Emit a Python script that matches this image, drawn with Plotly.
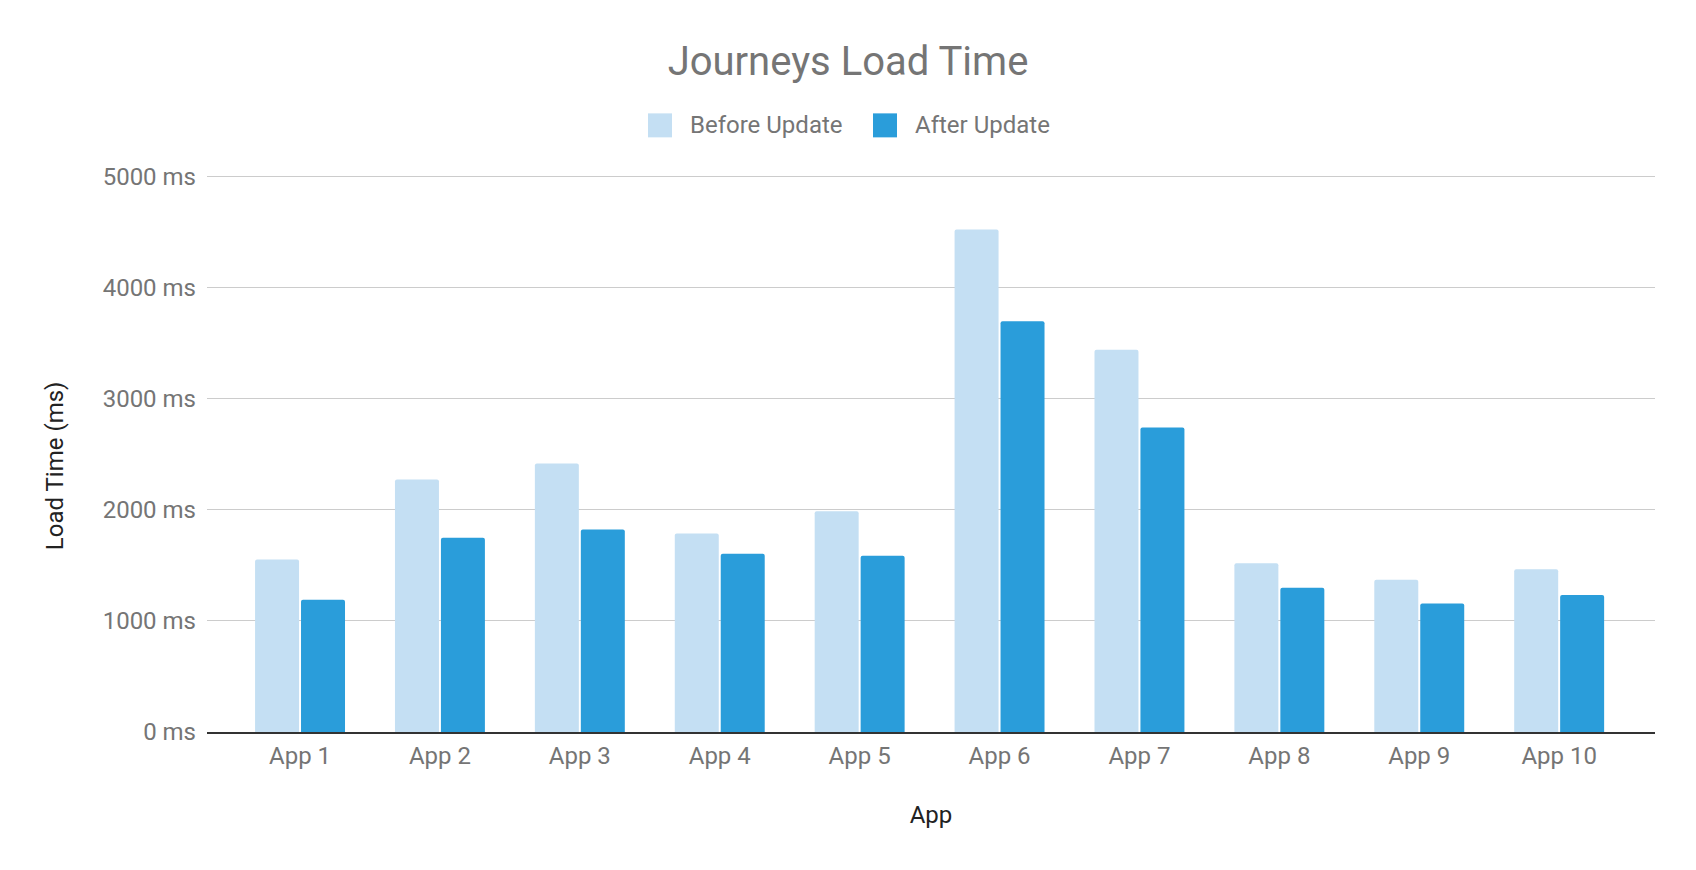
import plotly.graph_objects as go

# Dados
apps = ['App 1', 'App 2', 'App 3', 'App 4', 'App 5',
        'App 6', 'App 7', 'App 8', 'App 9', 'App 10']
antes = [1553, 2273, 2417, 1787, 1987, 4521, 3440, 1519, 1371, 1464]
depois = [1191, 1749, 1822, 1605, 1587, 3695, 2741, 1298, 1157, 1233]
series = ['Before Update', 'After Update']
cores = ['#C4DFF3', '#2A9DDA']
y_ticks = [0, 1000, 2000, 3000, 4000, 5000]

# Área do gráfico em px da página (a página tem 8px de margem no body)
Y_MAX = 5030
esq, dir_, base = 207, 1655, 732
topo = base - (base - 176) * Y_MAX / 5000


def px_x(x):
    return (x - esq) / (dir_ - esq)


def px_y(y):
    return (base - y) / (base - topo)


fig = go.Figure()

for nome, valores, cor in zip(series, [antes, depois], cores):
    fig.add_trace(go.Bar(
        x=apps,
        y=valores,
        name=nome,
        marker_color=cor,
        marker_line_width=0,
        marker_cornerradius=2,
        showlegend=False
    ))

# Legenda manual (quadrados maiores que os do plotly)
leg_x = [648, 873]
for i, (nome, cor) in enumerate(zip(series, cores)):
    x0 = leg_x[i]
    fig.add_shape(
        type='rect', xref='paper', yref='paper',
        x0=px_x(x0), x1=px_x(x0 + 24),
        y0=px_y(137), y1=px_y(113),
        fillcolor=cor, line_width=0, opacity=1
    )
    fig.add_annotation(
        text=nome, xref='paper', yref='paper',
        x=px_x(x0 + 40), y=px_y(125),
        xanchor='left', yanchor='middle', showarrow=False,
        font=dict(family='Roboto', size=24, color='#757575')
    )

# Título do eixo Y
fig.add_annotation(
    text='Load Time (ms)', xref='paper', yref='paper',
    x=px_x(55), y=px_y(466), textangle=-90,
    xanchor='center', yanchor='middle', showarrow=False,
    font=dict(family='Roboto', size=24, color='#222222')
)

# Layout
fig.update_layout(
    template='simple_white',
    width=1680,
    height=854,
    margin=dict(l=esq - 8, r=1688 - dir_, t=topo - 8, b=862 - base),
    bargap=0.343,
    bargroupgap=0.043,
    barmode='group',
    title=dict(
        text='Journeys Load Time',
        x=0.5,
        xanchor='center',
        yref='container',
        y=1 - 53 / 854,
        yanchor='middle',
        font=dict(family='Roboto', size=40, color='#757575')
    ),
    font=dict(family='Roboto', size=24, color='#757575'),
    plot_bgcolor='white',
    paper_bgcolor='white'
)

# Eixo X
fig.update_xaxes(
    type='category',
    range=[-0.665, 9.685],
    showline=True,
    linewidth=2,
    linecolor='#333333',
    ticks='',
    ticklabelstandoff=1,
    title=dict(text='App', standoff=37,
               font=dict(family='Roboto', size=24, color='#222222'))
)

# Eixo Y
fig.update_yaxes(
    range=[0, Y_MAX],
    tickvals=y_ticks,
    ticktext=[f'{v} ms' for v in y_ticks],
    showline=False,
    ticks='',
    showgrid=True,
    gridcolor='#CCCCCC',
    gridwidth=1,
    zeroline=False,
    ticklabelstandoff=10
)

fig.write_html("out.html")
